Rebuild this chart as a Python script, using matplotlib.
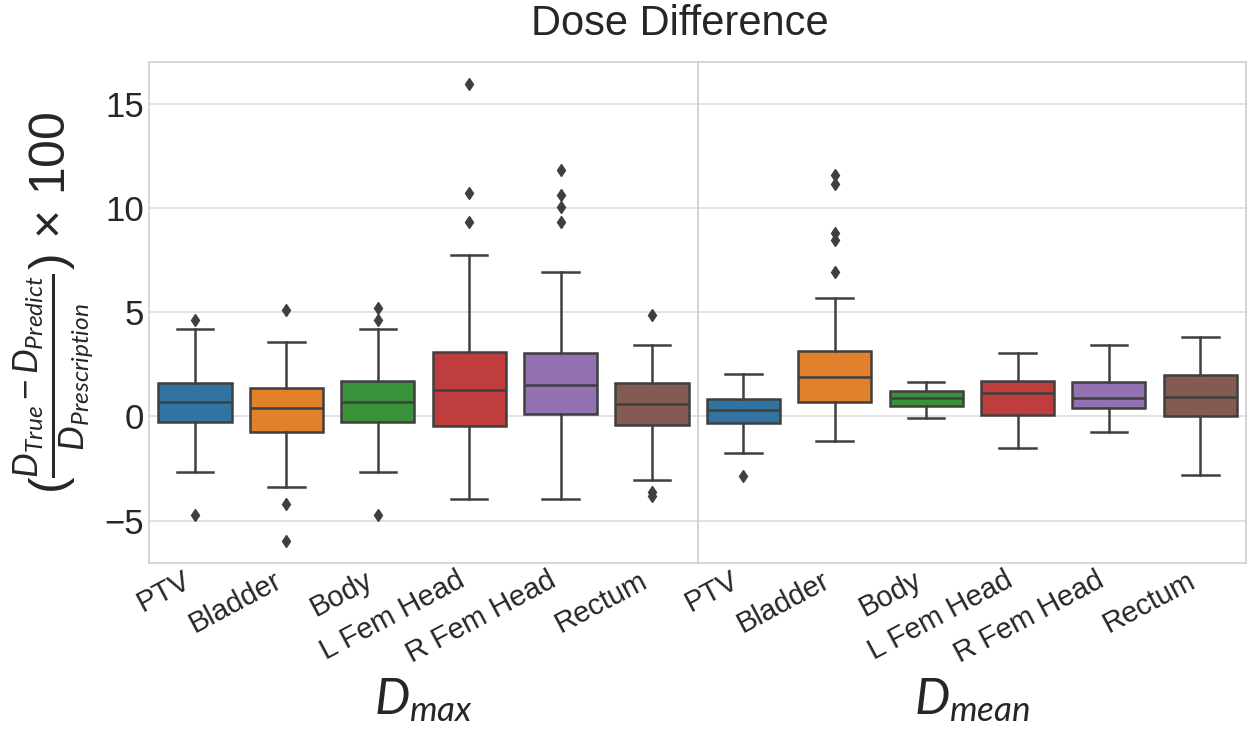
import matplotlib
matplotlib.use("Agg")
import matplotlib.pyplot as plt
from matplotlib import colors as mcolors
import colorsys

plt.rcParams['font.family'] = ['Liberation Sans', 'DejaVu Sans']
plt.rcParams['mathtext.fontset'] = 'custom'
plt.rcParams['mathtext.rm'] = 'Liberation Sans'
plt.rcParams['mathtext.it'] = 'Lato:italic'
plt.rcParams['mathtext.bf'] = 'Liberation Sans:bold'

organs = ["PTV", "Bladder", "Body", "L Fem Head", "R Fem Head", "Rectum"]
groups = [r"$D_{max}$", r"$D_{mean}$"]

# Dmax stats
dmax_whislo = [-2.65, -3.39, -2.65, -3.96, -3.96, -3.04]
dmax_q1 = [-0.29, -0.75, -0.29, -0.45, 0.14, -0.40]
dmax_med = [0.70, 0.42, 0.70, 1.25, 1.49, 0.62]
dmax_q3 = [1.61, 1.37, 1.68, 3.09, 3.05, 1.60]
dmax_whishi = [4.20, 3.57, 4.20, 7.75, 6.95, 3.44]
dmax_fliers = [
    [4.64, -4.72],
    [5.12, -4.20, -5.98],
    [5.20, 4.64, -4.72],
    [15.94, 10.71, 9.32],
    [11.83, 10.65, 10.07, 9.35],
    [4.88, -3.65, -3.84],
]

# Dmean stats
dmean_whislo = [-1.76, -1.20, -0.08, -1.53, -0.75, -2.83]
dmean_q1 = [-0.32, 0.67, 0.51, 0.05, 0.42, 0.02]
dmean_med = [0.32, 1.90, 0.88, 1.12, 0.88, 0.93]
dmean_q3 = [0.83, 3.12, 1.20, 1.71, 1.66, 1.98]
dmean_whishi = [2.05, 5.68, 1.66, 3.05, 3.42, 3.79]
dmean_fliers = [
    [-2.85],
    [11.59, 11.14, 8.79, 8.47, 6.92],
    [],
    [],
    [],
    [],
]

palette = ['#1f77b4', '#ff7f0e', '#2ca02c', '#d62728', '#9467bd', '#8c564b']


def desat(c, s=0.75):
    r, g, b = mcolors.to_rgb(c)
    h, l, sat = colorsys.rgb_to_hls(r, g, b)
    return colorsys.hls_to_rgb(h, l, sat * s)


def make_stats(lo, q1, med, q3, hi, fl):
    return [dict(whislo=a, q1=b, med=c, q3=d, whishi=e, fliers=f, label=n)
            for a, b, c, d, e, f, n in zip(lo, q1, med, q3, hi, fl, organs)]


data = [
    make_stats(dmax_whislo, dmax_q1, dmax_med, dmax_q3, dmax_whishi, dmax_fliers),
    make_stats(dmean_whislo, dmean_q1, dmean_med, dmean_q3, dmean_whishi, dmean_fliers),
]

W, H = 1249, 729
fig = plt.figure(figsize=(W / 100, H / 100), dpi=100)
left, right, top, bottom = 149.3, 1246, 61.7, 563.3
aw = (right - left) / 2
lc = '#3f3f3f'
axes = []
for i, (stats, grp) in enumerate(zip(data, groups)):
    ax = fig.add_axes([(left + i * aw) / W, 1 - bottom / H, aw / W, (bottom - top) / H])
    axes.append(ax)
    bp = ax.bxp(stats, positions=range(len(organs)), widths=0.8, patch_artist=True,
                boxprops=dict(linewidth=1.8, edgecolor=lc),
                medianprops=dict(color=lc, linewidth=1.8),
                whiskerprops=dict(color=lc, linewidth=1.8),
                capprops=dict(color=lc, linewidth=1.8),
                flierprops=dict(marker='d', markerfacecolor=lc, markeredgecolor=lc,
                                markersize=6))
    for patch, c in zip(bp['boxes'], palette):
        patch.set_facecolor(desat(c))
    ax.set_xlim(-0.5, len(organs) - 0.5)
    ax.set_ylim(-7.05, 17.03)
    ax.set_yticks([-5, 0, 5, 10, 15])
    ax.yaxis.grid(True, color='#dddddd', linewidth=1.2)
    ax.xaxis.grid(False)
    ax.set_axisbelow(True)
    for sp in ax.spines.values():
        sp.set_color('#d0d0d0')
        sp.set_linewidth(1.2)
    ax.tick_params(length=0, colors='#262626')
    ax.set_xticks(range(len(organs)))
    ax.set_xticklabels(organs, rotation=28, ha='right', fontsize=21)
    ax.tick_params(axis='x', pad=2)
    ax.tick_params(axis='y', labelsize=25, pad=4)
    ax.set_xlabel(grp, fontsize=36, color='#262626')
    ax.xaxis.set_label_coords(0.5, -0.225)
    if i == 1:
        ax.tick_params(axis='y', labelleft=False)

axes[0].set_ylabel(r"$(\frac{D_{True}-D_{Predict}}{D_{Prescription}})\,\times\,100$",
                   fontsize=36, color='#262626')
axes[0].yaxis.set_label_coords(-0.097, 0.52)

fig.text(680 / W, 1 - 24 / H, "Dose Difference", fontsize=30, ha='center', va='center',
         color='#262626')

fig.savefig("out.png", dpi=100)
